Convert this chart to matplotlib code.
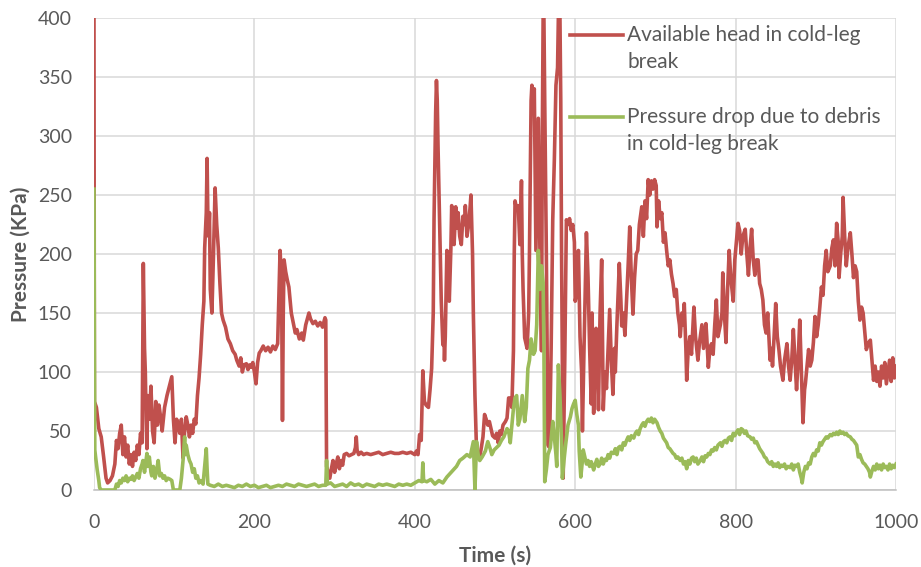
import matplotlib
matplotlib.use("Agg")
import matplotlib.pyplot as plt

# ---- data ----
red_t = [0,0.5,3,6,9,12,15,17,20,23,26,28,30,32,34,36,38,40,42,44,46,48,50,52,54,56,58,60,61.5,63,64,65,66,67,69,71,73,75,77,79,81,83,85,88,91,94,97,99,101,103,105,107,109,111,113,115,117,119,121,123,125,127,129,131,133,135,137,138,140,141,142,143,144,145,147,149,151,153,155,157,159,161,164,167,170,173,176,178,181,183,185,187,190,192,194,196,198,200,202,204,206,208,211,214,217,220,223,226,229,232,233,234,235,236,237,239,241,243,246,249,251,253,256,259,261,264,266,268,270,273,276,279,282,285,288,289,290,292,294,296,298,300,302,304,306,308,310,312,315,318,321,324,326,327,328,330,333,336,340,345,350,355,360,365,370,375,380,385,390,395,400,402,404,406,408,410,412,414,417,419,421,423,424,426,427,428,429,430,432,433,435,436,437,438,440,442,443,445,446,448,449,451,453,454,456,458,460,462,463,465,467,469,470,472,473,475,477,479,481,483,485,487,489,491,493,495,497,500,502,504,506,508,510,513,515,517,519,521,523,524,525,527,529,531,533,534,535,537,540,542,543,545,546,548,549,551,553,554,555,556,558,559,560,561,562,564,566,568,570,572,574,576,578,579,581,582,583,585,587,589,591,593,595,597,599,600,602,604,606,608,609,611,614,616,618,620,621,623,625,626,628,629,631,633,635,637,639,641,643,645,647,649,650,652,655,657,658,660,662,664,666,668,670,672,674,676,678,680,683,685,687,689,691,693,695,697,699,701,702,704,706,708,710,712,714,716,718,720,722,724,726,728,730,731,733,735,736,738,739,741,743,745,748,750,753,755,758,760,763,764,766,768,770,772,774,776,778,781,783,784,786,788,790,792,794,797,799,801,803,805,807,809,812,814,816,818,820,822,824,826,828,830,832,834,836,838,840,843,845,846,848,850,852,854,856,859,861,864,866,868,870,872,874,876,878,880,882,884,886,887,889,891,893,895,897,899,901,903,905,907,909,911,913,915,918,920,922,924,926,928,929,931,933,934,936,938,940,943,945,947,949,951,953,955,957,959,961,963,966,968,970,972,974,976,978,980,982,984,986,988,990,992,994,996,998,1000]
red_p = [400,75,70,52,45,28,10,6,8,12,22,42,35,48,55,30,45,28,38,22,30,20,32,25,38,30,48,40,192,120,100,60,35,80,60,88,50,40,75,55,72,62,50,70,80,88,96,60,40,60,55,48,60,27,50,62,55,45,55,48,60,56,80,95,115,140,160,205,235,281,230,215,235,170,150,200,256,225,205,175,150,144,138,128,124,118,115,110,105,112,100,106,107,102,106,104,108,100,90,108,116,118,122,118,121,117,122,119,124,203,190,160,59,150,195,185,178,172,150,140,133,136,128,133,127,140,145,150,145,141,143,139,142,138,146,144,20,15,10,18,25,15,22,28,18,25,21,30,31,29,30,31,36,45,34,30,32,30,31,30,31,32,30,31,32,31,31,32,31,32,30,33,30,47,42,101,75,72,70,85,103,150,230,320,347,330,290,258,190,160,123,140,110,130,203,185,160,205,241,215,208,240,222,235,215,208,232,225,241,215,224,240,250,200,150,80,33,30,28,36,45,64,60,55,58,52,46,44,48,40,50,47,55,58,61,78,78,70,118,200,245,238,241,208,262,200,170,129,120,150,203,330,343,330,340,203,280,315,260,203,118,300,400,400,330,203,38,36,120,229,280,343,358,400,400,330,200,10,110,229,225,230,220,225,210,160,167,203,130,100,50,120,218,180,120,73,150,65,110,137,100,68,150,195,68,100,86,120,153,110,81,120,100,140,192,160,139,150,131,160,190,223,180,149,180,200,203,225,240,215,245,230,263,250,262,255,263,258,223,245,230,235,210,218,203,190,195,183,175,164,170,150,140,130,150,140,158,120,93,120,130,115,155,130,110,125,140,120,141,130,104,120,124,115,140,161,130,140,150,184,150,125,170,203,180,160,195,210,226,220,200,215,221,200,182,205,221,195,182,195,195,175,170,161,140,133,150,110,120,105,130,158,130,119,105,93,110,124,105,93,110,136,110,85,110,144,100,57,85,90,105,119,105,110,125,147,130,140,155,172,165,190,203,185,190,205,212,190,226,210,180,200,215,248,215,190,205,218,200,180,190,185,160,144,155,150,135,119,125,127,110,93,105,92,100,88,105,95,108,90,100,110,92,112,95,105]

grn_t = [0,0.5,1,2,4,6,7,9,26,28,30,32,34,36,38,40,42,44,46,48,50,52,54,56,58,60,61,63,65,66,67,69,71,72,74,76,78,80,82,84,86,88,90,92,95,97,99,107,109,111,113,114,115,117,119,121,123,125,127,129,131,133,136,138,140,141,142,145,150,155,160,165,170,175,180,185,190,195,200,205,210,215,220,225,230,235,240,245,250,255,260,265,270,275,280,285,289,290,291,295,300,305,310,315,320,325,330,335,340,345,350,355,360,365,370,375,380,385,390,395,400,405,409,410,411,415,420,425,430,435,440,444,448,452,456,460,465,469,473,474,475,476,477,479,481,484,488,491,494,496,499,502,505,508,511,515,517,519,521,523,525,527,529,531,534,537,539,541,543,545,548,550,552,554,556,558,560,561,562,564,566,569,572,574,576,577,579,581,583,584,586,588,591,594,596,598,600,602,604,605,607,609,610,612,614,616,618,620,623,625,627,629,631,633,635,637,639,641,643,645,648,650,652,654,656,658,660,662,664,666,668,670,673,675,677,679,681,683,685,687,689,691,693,695,697,699,702,704,706,708,710,712,714,716,718,720,722,724,726,728,731,733,735,737,739,741,743,745,747,749,751,753,756,758,760,762,764,766,768,770,772,774,776,778,781,783,785,787,789,791,793,795,797,799,801,803,805,807,809,811,813,815,818,820,822,824,826,828,830,832,834,836,838,840,843,845,847,849,851,853,855,857,859,861,863,865,868,870,872,874,876,878,880,882,883,885,887,889,891,893,895,897,899,901,903,905,907,909,911,913,915,918,920,922,924,926,928,930,932,934,936,938,940,943,945,947,949,951,953,955,957,959,961,963,965,967,968,970,972,974,976,978,980,982,984,986,988,990,992,994,996,998,1000]
grn_p = [255,120,34,28,17,8,2,0,0,5,3,8,6,10,8,12,7,10,9,12,8,11,14,10,18,22,25,15,26,31,20,28,15,12,20,10,16,25,12,14,10,12,8,10,9,8,0,0,10,25,45,30,38,30,25,22,15,18,10,12,6,8,5,20,35,18,5,4,3,5,3,4,3,2,4,3,5,3,4,2,3,4,2,3,4,3,5,4,3,5,4,3,4,5,3,4,4,25,5,6,3,4,5,3,6,4,5,3,5,4,3,5,4,5,4,3,5,4,5,4,6,8,7,23,8,7,9,5,8,6,11,14,17,20,25,27,30,28,41,20,0,20,41,30,25,28,33,41,35,30,34,36,38,42,45,52,50,40,55,69,78,80,55,60,80,58,70,103,110,128,115,118,140,203,170,190,176,120,7,17,30,36,58,45,30,20,106,80,40,10,25,38,55,62,69,73,76,64,55,33,11,25,34,28,22,25,20,24,17,22,26,20,22,27,22,26,25,30,27,32,31,35,30,36,37,34,40,38,42,45,42,46,44,48,50,47,52,55,57,54,58,60,58,61,57,60,57,53,50,48,44,42,40,36,35,33,31,30,27,28,25,27,22,24,18,25,22,27,28,24,27,22,25,28,24,29,28,31,30,34,33,36,34,38,40,37,41,42,40,44,45,42,48,46,49,51,47,52,51,48,50,46,45,43,44,40,41,38,35,33,31,28,27,24,22,24,20,22,20,23,19,21,20,22,18,20,19,22,17,21,20,22,15,10,6,15,20,18,23,22,28,31,29,34,33,40,38,41,43,45,44,47,46,48,47,49,47,50,48,49,47,48,46,45,43,42,40,38,28,30,26,23,22,20,18,15,11,16,20,17,22,18,21,17,22,19,20,17,22,18,21,19,22]

series_labels = [["Available head in cold-leg", "break"],
                 ["Pressure drop due to debris", "in cold-leg break"]]
x_ticks = [0, 200, 400, 600, 800, 1000]
y_ticks = [0, 50, 100, 150, 200, 250, 300, 350, 400]

RED = "#C0504D"
GREEN = "#9BBB59"
TXT = "#595959"
FONT = ["Lato", "DejaVu Sans"]

plt.rcParams["font.family"] = FONT

fig = plt.figure(figsize=(9.21, 5.67), dpi=100)
ax = fig.add_axes([94/921, 77/567, 802/921, 472/567])

ax.plot(red_t, red_p, color=RED, lw=2.6, solid_joinstyle="round", zorder=3)
ax.plot(grn_t, grn_p, color=GREEN, lw=2.6, solid_joinstyle="round", zorder=4)

ax.set_xlim(0, 1000)
ax.set_ylim(0, 400)
ax.set_xticks(x_ticks)
ax.set_yticks(y_ticks)
ax.grid(True, color="#D9D9D9", lw=1.1, zorder=0)
ax.set_axisbelow(True)
for s in ["top", "right", "left"]:
    ax.spines[s].set_visible(False)
ax.spines["bottom"].set_color("#BFBFBF")
ax.spines["bottom"].set_linewidth(1.1)
ax.tick_params(axis="both", length=0, labelsize=14, labelcolor=TXT)
ax.tick_params(axis="x", pad=17)
ax.tick_params(axis="y", pad=16)

ax.set_xlabel("Time (s)", fontsize=15, fontweight="bold", color=TXT, labelpad=11)
ax.set_ylabel("Pressure (KPa)", fontsize=15, fontweight="bold", color=TXT, labelpad=5)

# legend drawn manually (Excel style: handle aligned with first text line)
def fx(px):
    return (px - 94) / 802
def fy(py):
    return (490 - py) / 472

for (col, lines, y0) in [(RED, series_labels[0], 35), (GREEN, series_labels[1], 117)]:
    ax.plot([fx(570), fx(623)], [fy(y0), fy(y0)], color=col, lw=2.6,
            transform=ax.transAxes, clip_on=False, zorder=5)
    for i, line in enumerate(lines):
        ax.text(fx(627), fy(y0 + 27 * i), line, transform=ax.transAxes,
                ha="left", va="center", fontsize=15, color=TXT, zorder=6)

fig.savefig("out.png", dpi=100, facecolor="white")
